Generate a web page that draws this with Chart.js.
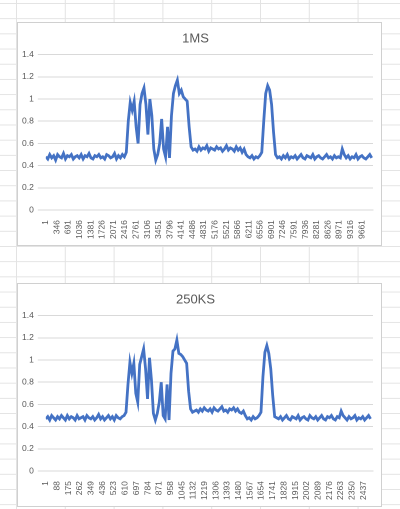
<!DOCTYPE html>
<html><head><meta charset="utf-8">
<script src="https://cdn.jsdelivr.net/npm/chart.js@4"></script>
<style>
html,body{margin:0;padding:0;width:400px;height:509px;overflow:hidden;
background-color:#fff;
background-image:linear-gradient(to right,#e3e3e3 1px,transparent 1px),linear-gradient(to bottom,#e3e3e3 1px,transparent 1px);
background-size:48.8px 15.2px;background-position:16px 3px;}
.box{position:absolute;left:17px;width:365px;height:224px;background:#fff;border:1px solid #d0d0d0;box-sizing:border-box;}
</style></head><body>
<div class="box" style="top:22px"><canvas id="c1"></canvas></div>
<div class="box" style="top:283px"><canvas id="c2"></canvas></div>
<script>
const titles=["1MS","250KS"];
const ticks1=[1,346,691,1036,1381,1726,2071,2416,2761,3106,3451,3796,4141,4486,4831,5176,5521,5866,6211,6556,6901,7246,7591,7936,8281,8626,8971,9316,9661];
const ticks2=[1,88,175,262,349,436,523,610,697,784,871,958,1045,1132,1219,1306,1393,1480,1567,1654,1741,1828,1915,2002,2089,2176,2263,2350,2437];
const yTicks=[0,0.2,0.4,0.6,0.8,1,1.2,1.4];
const series1=[.48,.46,.5,.47,.49,.45,.5,.48,.47,.51,.46,.49,.48,.5,.46,.48,.49,.47,.5,.46,.49,.48,.51,.47,.46,.49,.48,.5,.47,.48,.46,.5,.49,.47,.48,.51,.46,.49,.47,.5,.48,.52,
.8,.97,.9,.98,.75,.6,.95,1.05,1.1,.95,.68,1.0,.85,.55,.45,.5,.6,.82,.55,.48,.75,.47,.85,1.05,1.12,1.17,1.05,1.08,1.02,1.0,.98,.75,.57,.54,
.55,.53,.57,.54,.56,.55,.58,.53,.56,.55,.54,.57,.55,.56,.53,.55,.58,.54,.56,.55,.53,.57,.54,.56,.52,.55,.5,
.48,.47,.49,.46,.48,.47,.49,.52,
.8,1.05,1.12,1.08,.95,.7,.5,.47,
.48,.46,.49,.47,.5,.46,.48,.47,.49,.46,.48,.5,.47,.46,.49,.48,.47,.5,.46,.48,.49,.47,.46,.48,.5,.47,.48,.46,.49,.47,.48,.47,.55,.5,.47,.49,.46,.48,.47,.5,.46,.48,.49,.47,.46,.48,.5,.47];
const series2=[.47,.49,.46,.5,.48,.46,.49,.47,.5,.48,.46,.5,.47,.49,.48,.46,.5,.47,.48,.49,.46,.5,.48,.47,.49,.46,.48,.51,.47,.49,.46,.48,.5,.47,.49,.46,.5,.48,.47,.49,.5,.53,
.78,.98,.88,.97,.7,.62,.96,1.03,1.1,.92,.65,1.02,.82,.52,.46,.52,.62,.8,.5,.47,.78,.46,.88,1.08,1.1,1.18,1.06,1.05,1.03,1.0,.97,.72,.56,.53,
.54,.55,.53,.56,.54,.57,.55,.54,.56,.53,.57,.55,.54,.56,.58,.54,.55,.53,.56,.55,.57,.54,.56,.53,.52,.54,.5,
.47,.48,.46,.49,.47,.48,.5,.53,
.85,1.07,1.13,1.06,.92,.68,.49,.48,
.47,.49,.46,.48,.5,.47,.46,.49,.48,.47,.5,.46,.48,.49,.47,.46,.5,.48,.47,.49,.46,.48,.5,.47,.46,.49,.48,.5,.47,.46,.49,.48,.54,.5,.48,.46,.49,.47,.48,.5,.46,.48,.47,.49,.46,.48,.5,.47];
const step1=60, step2=15;
function make(id,title,series,step,ticks,max){
  const data=series.map((v,i)=>({x:1+i*step,y:v}));
  new Chart(document.getElementById(id),{type:'line',
    data:{datasets:[{data,borderColor:'#4472C4',borderWidth:2.8,pointRadius:0,tension:0}]},
    options:{responsive:false,animation:false,devicePixelRatio:2,
      layout:{padding:{left:0,right:8,top:2,bottom:4}},
      plugins:{legend:{display:false},tooltip:{enabled:false},
        title:{display:true,text:title,color:'#595959',font:{family:'Liberation Sans',size:13,weight:'normal'},padding:{top:6,bottom:8}}},
      scales:{
        x:{type:'linear',min:1,max:max,grid:{display:false},border:{color:'#d9d9d9'},
          afterBuildTicks:s=>{s.ticks=ticks.map(v=>({value:v}));},
          ticks:{color:'#595959',font:{family:'Liberation Sans',size:8.5},minRotation:90,maxRotation:90,autoSkip:false,padding:2,callback:v=>String(v)}},
        y:{min:0,max:1.4,grid:{color:'#d9d9d9'},border:{display:false},
          afterBuildTicks:s=>{s.ticks=yTicks.map(v=>({value:v}));},
          ticks:{color:'#595959',font:{family:'Liberation Sans',size:8.5},padding:4,callback:v=>String(Math.round(v*10)/10)}}
      }}});
}
const c1=document.getElementById('c1'),c2=document.getElementById('c2');
[c1,c2].forEach(c=>{c.width=363;c.height=222;c.style.width='363px';c.style.height='222px';});
make('c1',titles[0],series1,step1,ticks1,10000);
make('c2',titles[1],series2,step2,ticks2,2510);
</script></body></html>
